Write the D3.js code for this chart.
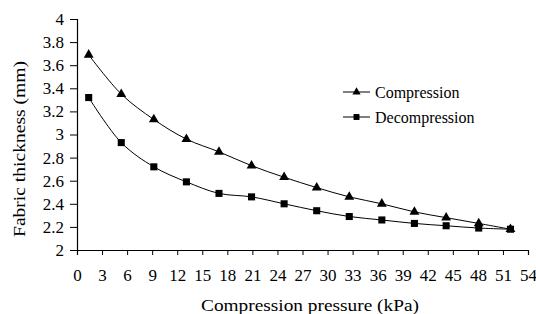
<!DOCTYPE html>
<html>
<head>
<meta charset="utf-8">
<script src="https://cdn.jsdelivr.net/npm/d3@7"></script>
<style>
  body { margin: 0; background: #fff; }
  text { font-family: "Liberation Serif", "Times New Roman", serif; fill: #000; }
</style>
</head>
<body>
<div id="chart"></div>
<script>
// values
var pressure = [1.4, 5.3, 9.2, 13.1, 17.0, 20.9, 24.8, 28.7, 32.6, 36.5, 40.4, 44.2, 48.1, 51.9];
var compression = [3.69, 3.35, 3.13, 2.96, 2.85, 2.73, 2.63, 2.54, 2.46, 2.40, 2.33, 2.28, 2.23, 2.18];
var decompression = [3.32, 2.93, 2.72, 2.59, 2.49, 2.46, 2.40, 2.34, 2.29, 2.26, 2.23, 2.21, 2.19, 2.18];
var xTicks = d3.range(0, 55, 3);
var yTicks = [2, 2.2, 2.4, 2.6, 2.8, 3, 3.2, 3.4, 3.6, 3.8, 4];

var W = 536, H = 314;
var margin = {top: 19, right: 8, bottom: 64, left: 77};
var width = W - margin.left - margin.right,
    height = H - margin.top - margin.bottom;

var svg = d3.select("#chart").append("svg")
    .attr("width", W).attr("height", H);
var g = svg.append("g")
    .attr("transform", "translate(" + margin.left + "," + margin.top + ")");

var x = d3.scaleLinear().domain([0, 54]).range([0, width]);
var y = d3.scaleLinear().domain([2, 4]).range([height, 0]);

// y axis
var yAxis = g.append("g")
    .call(d3.axisLeft(y).tickValues(yTicks).tickSize(7).tickPadding(6)
      .tickFormat(function(d){ return String(+d.toFixed(1)); }));
yAxis.select(".domain").attr("stroke", "#000").attr("stroke-width", 1.2);
yAxis.selectAll("text").style("font-size", "17px").style("font-family", "Liberation Serif");

// x axis
var xAxis = g.append("g")
    .attr("transform", "translate(0," + height + ")")
    .call(d3.axisBottom(x).tickValues(xTicks).tickSizeOuter(0).tickSize(5).tickPadding(14));
xAxis.select(".domain").attr("stroke", "#000").attr("stroke-width", 1.2);
xAxis.selectAll("text").style("font-size", "17px").style("font-family", "Liberation Serif");

// titles
svg.append("text")
    .attr("x", 310)
    .attr("y", 311)
    .attr("text-anchor", "middle")
    .attr("textLength", 218)
    .attr("lengthAdjust", "spacingAndGlyphs")
    .style("font-size", "17px")
    .text("Compression pressure (kPa)");
svg.append("text")
    .attr("transform", "translate(25,149) rotate(-90)")
    .attr("text-anchor", "middle")
    .attr("textLength", 176)
    .attr("lengthAdjust", "spacingAndGlyphs")
    .style("font-size", "17px")
    .text("Fabric thickness (mm)");

var line = d3.line()
    .x(function(d){ return x(d[0]); })
    .y(function(d){ return y(d[1]); })
    .curve(d3.curveCatmullRom.alpha(0.5));

var series = [
  {name: "Compression", vals: compression, shape: d3.symbolTriangle, size: 42},
  {name: "Decompression", vals: decompression, shape: d3.symbolSquare, size: 50}
];

series.forEach(function(s){
  var pts = pressure.map(function(p, i){ return [p, s.vals[i]]; });
  g.append("path").datum(pts)
    .attr("d", line)
    .attr("fill", "none")
    .attr("stroke", "#000")
    .attr("stroke-width", 1);
  g.selectAll(null).data(pts).enter().append("path")
    .attr("transform", function(d){ return "translate(" + x(d[0]) + "," + y(d[1]) + ")"; })
    .attr("d", d3.symbol().type(s.shape).size(s.size))
    .attr("fill", "#000");
});

// legend
var legend = svg.append("g").attr("transform", "translate(343,92)");
series.forEach(function(s, i){
  var lg = legend.append("g").attr("transform", "translate(0," + (i * 25) + ")");
  lg.append("line").attr("x1", 0).attr("x2", 27).attr("y1", 0).attr("y2", 0)
    .attr("stroke", "#000").attr("stroke-width", 1);
  lg.append("path").attr("transform", "translate(13.5,0)")
    .attr("d", d3.symbol().type(s.shape).size(s.size * 0.7)).attr("fill", "#000");
  lg.append("text").attr("x", 32).attr("y", 6)
    .style("font-size", "16px")
    .text(s.name);
});
</script>
</body>
</html>
